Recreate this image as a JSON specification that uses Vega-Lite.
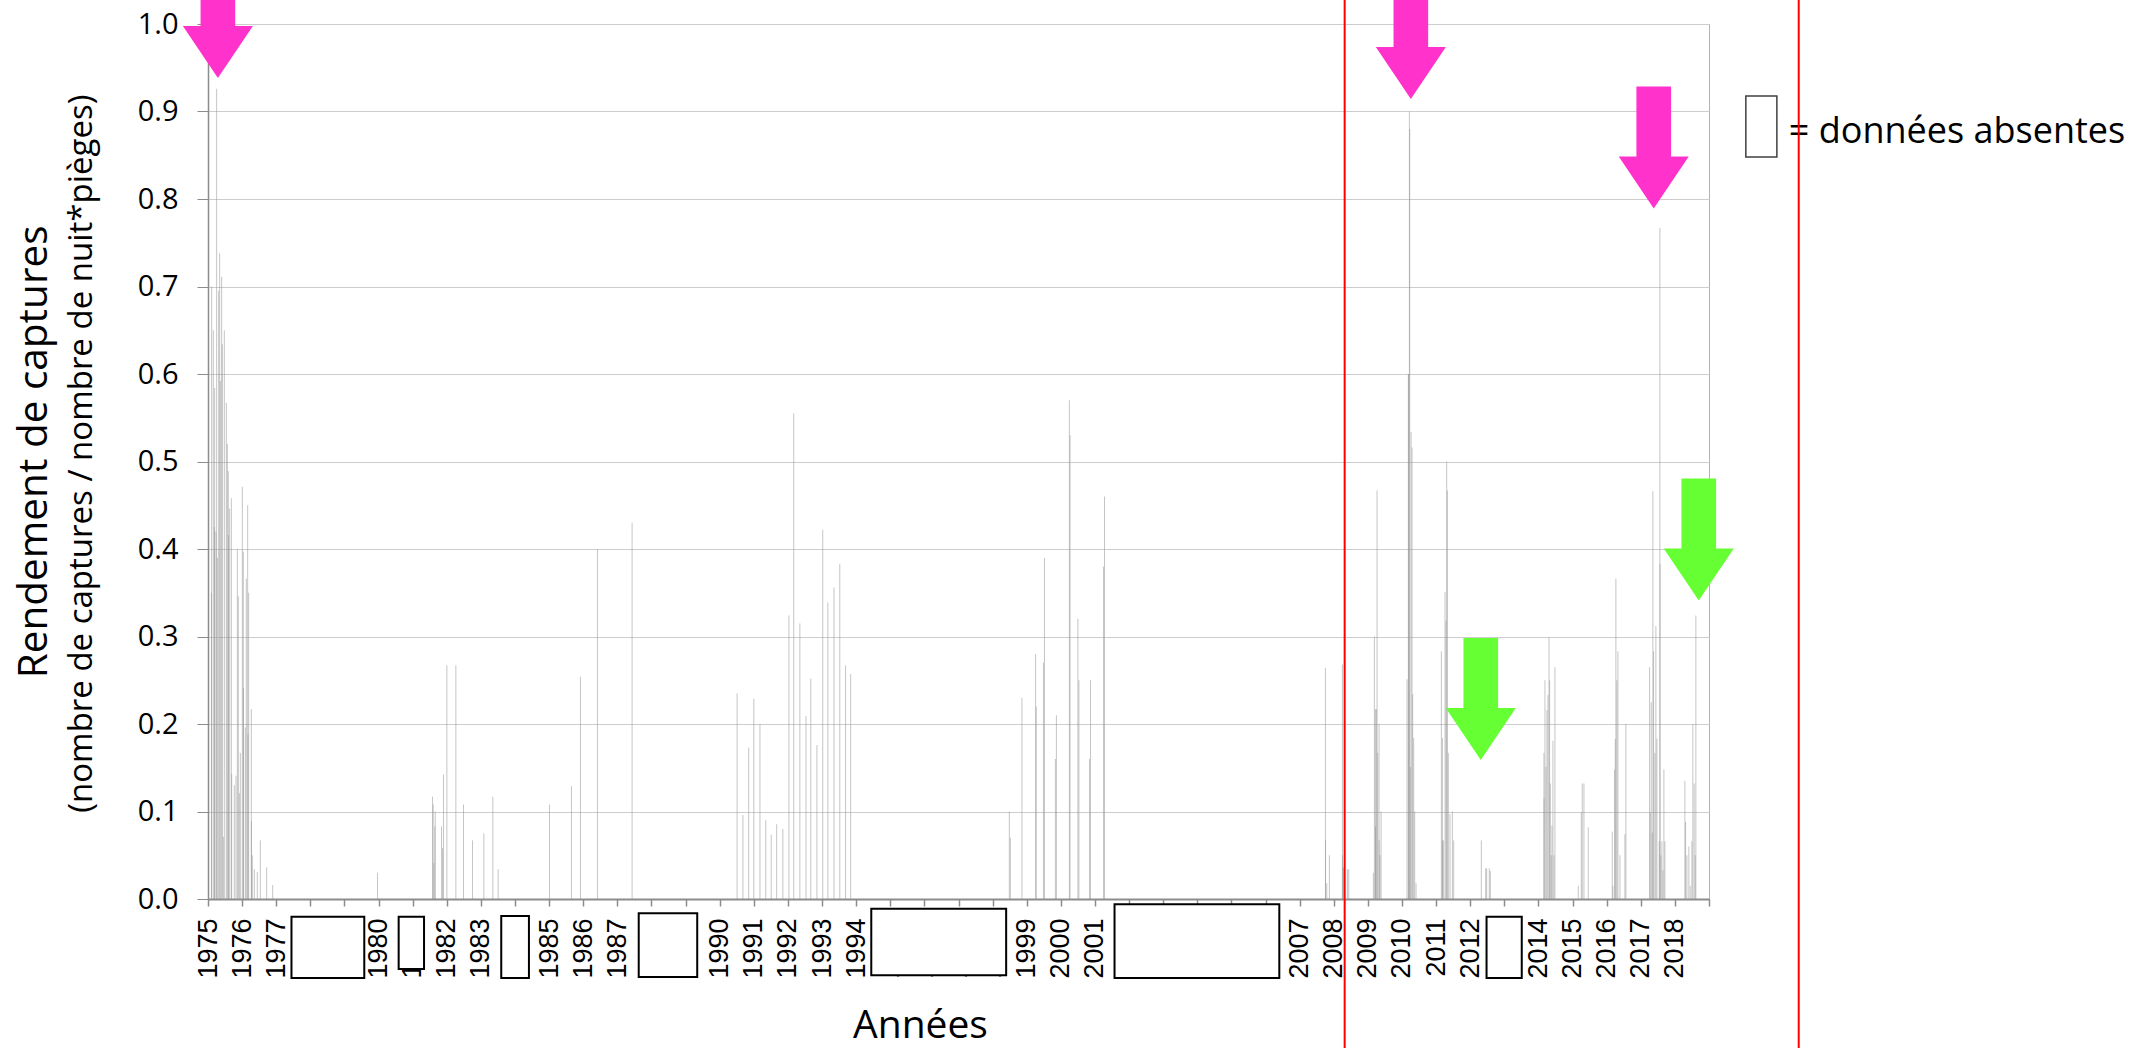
{
  "$schema": "https://vega.github.io/schema/vega-lite/v6.json",
  "width": 1501,
  "height": 875,
  "autosize": "none",
  "padding": {"left": 208, "top": 24, "right": 440, "bottom": 149},
  "background": "white",
  "config": {"view": {"stroke": "#b3b3b3", "strokeWidth": 1}, "font": "Open Sans"},
  "datasets": {
    "captures": [
      {"t": 1975.100, "v": 0.35}, {"t": 1975.107, "v": 0.70}, {"t": 1975.156, "v": 0.65}, {"t": 1975.190, "v": 0.425},
      {"t": 1975.195, "v": 0.584}, {"t": 1975.234, "v": 0.42}, {"t": 1975.254, "v": 0.926}, {"t": 1975.274, "v": 0.39},
      {"t": 1975.313, "v": 0.695}, {"t": 1975.342, "v": 0.738}, {"t": 1975.361, "v": 0.592}, {"t": 1975.400, "v": 0.711},
      {"t": 1975.420, "v": 0.634}, {"t": 1975.449, "v": 0.071}, {"t": 1975.479, "v": 0.65}, {"t": 1975.537, "v": 0.567},
      {"t": 1975.567, "v": 0.52}, {"t": 1975.596, "v": 0.489}, {"t": 1975.600, "v": 0.416}, {"t": 1975.635, "v": 0.446},
      {"t": 1975.684, "v": 0.458}, {"t": 1975.694, "v": 0.143}, {"t": 1975.772, "v": 0.13}, {"t": 1975.821, "v": 0.141},
      {"t": 1975.860, "v": 0.40}, {"t": 1975.889, "v": 0.346}, {"t": 1975.918, "v": 0.121}, {"t": 1975.948, "v": 0.167},
      {"t": 1976.006, "v": 0.471}, {"t": 1976.036, "v": 0.397}, {"t": 1976.040, "v": 0.241}, {"t": 1976.094, "v": 0.196},
      {"t": 1976.123, "v": 0.366}, {"t": 1976.163, "v": 0.45}, {"t": 1976.172, "v": 0.188}, {"t": 1976.192, "v": 0.35},
      {"t": 1976.270, "v": 0.217}, {"t": 1976.274, "v": 0.089}, {"t": 1976.299, "v": 0.05}, {"t": 1976.358, "v": 0.034},
      {"t": 1976.446, "v": 0.031}, {"t": 1976.534, "v": 0.067}, {"t": 1976.720, "v": 0.036}, {"t": 1976.896, "v": 0.016},
      {"t": 1979.970, "v": 0.030}, {"t": 1981.582, "v": 0.117}, {"t": 1981.600, "v": 0.108}, {"t": 1981.620, "v": 0.041},
      {"t": 1981.650, "v": 0.083}, {"t": 1981.660, "v": 0.10}, {"t": 1981.846, "v": 0.083}, {"t": 1981.875, "v": 0.058},
      {"t": 1981.904, "v": 0.142}, {"t": 1982.002, "v": 0.267}, {"t": 1982.266, "v": 0.267}, {"t": 1982.490, "v": 0.108},
      {"t": 1982.754, "v": 0.067}, {"t": 1983.086, "v": 0.075}, {"t": 1983.350, "v": 0.117}, {"t": 1983.506, "v": 0.034},
      {"t": 1985.010, "v": 0.108}, {"t": 1985.654, "v": 0.129}, {"t": 1985.918, "v": 0.254}, {"t": 1986.416, "v": 0.40},
      {"t": 1987.432, "v": 0.430},
      {"t": 1990.51, "v": 0.235}, {"t": 1990.68, "v": 0.096}, {"t": 1990.85, "v": 0.173}, {"t": 1991.00, "v": 0.229},
      {"t": 1991.18, "v": 0.200}, {"t": 1991.35, "v": 0.090}, {"t": 1991.51, "v": 0.0735}, {"t": 1991.67, "v": 0.0855},
      {"t": 1991.85, "v": 0.080}, {"t": 1992.03, "v": 0.324}, {"t": 1992.17, "v": 0.555}, {"t": 1992.35, "v": 0.315},
      {"t": 1992.53, "v": 0.209}, {"t": 1992.67, "v": 0.252}, {"t": 1992.85, "v": 0.176}, {"t": 1993.02, "v": 0.422},
      {"t": 1993.17, "v": 0.339}, {"t": 1993.35, "v": 0.356}, {"t": 1993.52, "v": 0.383}, {"t": 1993.69, "v": 0.267},
      {"t": 1993.84, "v": 0.257},
      {"t": 1998.49, "v": 0.10}, {"t": 1998.52, "v": 0.07}, {"t": 1998.86, "v": 0.23}, {"t": 1999.26, "v": 0.28},
      {"t": 1999.28, "v": 0.22}, {"t": 1999.49, "v": 0.27}, {"t": 1999.52, "v": 0.39}, {"t": 1999.84, "v": 0.16},
      {"t": 1999.87, "v": 0.21}, {"t": 2000.25, "v": 0.57}, {"t": 2000.27, "v": 0.53}, {"t": 2000.50, "v": 0.32},
      {"t": 2000.53, "v": 0.25}, {"t": 2000.84, "v": 0.16}, {"t": 2000.87, "v": 0.25}, {"t": 2001.25, "v": 0.38},
      {"t": 2001.28, "v": 0.46},
      {"t": 2007.756, "v": 0.264}, {"t": 2007.760, "v": 0.067}, {"t": 2007.795, "v": 0.018}, {"t": 2007.873, "v": 0.05},
      {"t": 2008.254, "v": 0.268}, {"t": 2008.258, "v": 0.05}, {"t": 2008.283, "v": 0.036}, {"t": 2008.400, "v": 0.034},
      {"t": 2008.440, "v": 0.034},
      {"t": 2009.162, "v": 0.03}, {"t": 2009.191, "v": 0.30}, {"t": 2009.221, "v": 0.217}, {"t": 2009.224, "v": 0.083},
      {"t": 2009.250, "v": 0.217}, {"t": 2009.270, "v": 0.467}, {"t": 2009.289, "v": 0.167}, {"t": 2009.328, "v": 0.20},
      {"t": 2009.331, "v": 0.067}, {"t": 2009.357, "v": 0.05}, {"t": 2009.387, "v": 0.10},
      {"t": 2010.148, "v": 0.251}, {"t": 2010.188, "v": 0.60}, {"t": 2010.191, "v": 0.60}, {"t": 2010.217, "v": 0.90},
      {"t": 2010.227, "v": 0.88}, {"t": 2010.246, "v": 0.151}, {"t": 2010.266, "v": 0.534}, {"t": 2010.295, "v": 0.516},
      {"t": 2010.314, "v": 0.234}, {"t": 2010.344, "v": 0.184}, {"t": 2010.373, "v": 0.10}, {"t": 2010.412, "v": 0.018},
      {"t": 2011.154, "v": 0.283}, {"t": 2011.184, "v": 0.184}, {"t": 2011.187, "v": 0.067}, {"t": 2011.213, "v": 0.067},
      {"t": 2011.262, "v": 0.351}, {"t": 2011.291, "v": 0.318}, {"t": 2011.311, "v": 0.50}, {"t": 2011.330, "v": 0.467},
      {"t": 2011.359, "v": 0.167}, {"t": 2011.408, "v": 0.097}, {"t": 2011.477, "v": 0.10}, {"t": 2011.516, "v": 0.067},
      {"t": 2012.326, "v": 0.067}, {"t": 2012.453, "v": 0.035}, {"t": 2012.482, "v": 0.035}, {"t": 2012.560, "v": 0.035},
      {"t": 2012.590, "v": 0.032},
      {"t": 2014.162, "v": 0.167}, {"t": 2014.165, "v": 0.115}, {"t": 2014.191, "v": 0.25}, {"t": 2014.221, "v": 0.151},
      {"t": 2014.250, "v": 0.216}, {"t": 2014.279, "v": 0.233}, {"t": 2014.309, "v": 0.299}, {"t": 2014.328, "v": 0.25},
      {"t": 2014.348, "v": 0.132}, {"t": 2014.377, "v": 0.05}, {"t": 2014.396, "v": 0.084}, {"t": 2014.426, "v": 0.181},
      {"t": 2014.455, "v": 0.05}, {"t": 2014.484, "v": 0.265},
      {"t": 2015.168, "v": 0.015}, {"t": 2015.256, "v": 0.099}, {"t": 2015.285, "v": 0.132}, {"t": 2015.334, "v": 0.132},
      {"t": 2015.461, "v": 0.082},
      {"t": 2016.164, "v": 0.077}, {"t": 2016.184, "v": 0.015}, {"t": 2016.232, "v": 0.148}, {"t": 2016.252, "v": 0.183},
      {"t": 2016.271, "v": 0.366}, {"t": 2016.300, "v": 0.25}, {"t": 2016.330, "v": 0.283}, {"t": 2016.389, "v": 0.05},
      {"t": 2016.535, "v": 0.074}, {"t": 2016.564, "v": 0.20},
      {"t": 2017.258, "v": 0.265}, {"t": 2017.277, "v": 0.099}, {"t": 2017.307, "v": 0.225}, {"t": 2017.336, "v": 0.076},
      {"t": 2017.355, "v": 0.466}, {"t": 2017.375, "v": 0.283}, {"t": 2017.414, "v": 0.167}, {"t": 2017.443, "v": 0.312},
      {"t": 2017.473, "v": 0.183}, {"t": 2017.541, "v": 0.066}, {"t": 2017.561, "v": 0.767}, {"t": 2017.564, "v": 0.383},
      {"t": 2017.590, "v": 0.05}, {"t": 2017.619, "v": 0.066}, {"t": 2017.648, "v": 0.033}, {"t": 2017.678, "v": 0.148},
      {"t": 2017.707, "v": 0.066},
      {"t": 2018.293, "v": 0.135}, {"t": 2018.313, "v": 0.088}, {"t": 2018.352, "v": 0.05}, {"t": 2018.410, "v": 0.06},
      {"t": 2018.449, "v": 0.015}, {"t": 2018.498, "v": 0.066}, {"t": 2018.527, "v": 0.20}, {"t": 2018.566, "v": 0.132},
      {"t": 2018.596, "v": 0.05}, {"t": 2018.615, "v": 0.324}
    ],
    "lacunes": [
      {"t": 1977.447, "t2": 1979.581, "v": -0.0202, "v2": -0.0903},
      {"t": 1980.589, "t2": 1981.333, "v": -0.0202, "v2": -0.0800},
      {"t": 1983.596, "t2": 1984.408, "v": -0.0194, "v2": -0.0903},
      {"t": 1987.626, "t2": 1989.341, "v": -0.0163, "v2": -0.0891},
      {"t": 1994.443, "t2": 1998.397, "v": -0.0111, "v2": -0.0872},
      {"t": 2001.574, "t2": 2006.404, "v": -0.0061, "v2": -0.0903},
      {"t": 2012.479, "t2": 2013.511, "v": -0.0202, "v2": -0.0903}
    ],
    "lignes_rouges": [
      {"t": 2008.32, "v": 1.03, "v2": -0.175},
      {"t": 2021.63, "v": 1.03, "v2": -0.175}
    ],
    "fleches": [
      {"t": 1975.29, "v": 1.008, "couleur": "rose"},
      {"t": 2010.26, "v": 0.984, "couleur": "rose"},
      {"t": 2017.38, "v": 0.859, "couleur": "rose"},
      {"t": 2012.31, "v": 0.2286, "couleur": "vert"},
      {"t": 2018.70, "v": 0.411, "couleur": "vert"}
    ]
  },
  "encoding": {
    "x": {
      "field": "t",
      "type": "quantitative",
      "scale": {"domain": [1975, 2019], "nice": false, "zero": false},
      "axis": {
        "values": [1975,1976,1977,1978,1979,1980,1981,1982,1983,1984,1985,1986,1987,1988,1989,1990,1991,1992,1993,1994,1995,1996,1997,1998,1999,2000,2001,2002,2003,2004,2005,2006,2007,2008,2009,2010,2011,2012,2013,2014,2015,2016,2017,2018,2019],
        "format": "d",
        "labelExpr": "datum.value == 2019 ? '' : datum.label",
        "labelAngle": 270,
        "labelFont": "Liberation Sans",
        "labelFontSize": 27,
        "labelColor": "#000000",
        "labelOverlap": false,
        "labelFlush": false,
        "labelBound": false,
        "labelPadding": 12,
        "tickSize": 7,
        "tickColor": "#8c8c8c",
        "tickWidth": 1.5,
        "domainColor": "#8c8c8c",
        "domainWidth": 2,
        "grid": false,
        "zindex": 0,
        "title": "Années",
        "titleFont": "Open Sans",
        "titleFontSize": 39,
        "titleFontWeight": "normal",
        "titleColor": "#000000",
        "titleX": 712,
        "titleY": 138,
        "titleAlign": "center",
        "titleBaseline": "alphabetic"
      }
    },
    "y": {
      "field": "v",
      "type": "quantitative",
      "scale": {"domain": [0, 1], "nice": false, "zero": false},
      "axis": {
        "values": [0, 0.1, 0.2, 0.3, 0.4, 0.5, 0.6, 0.7, 0.8, 0.9, 1.0],
        "format": ".1f",
        "labelFont": "Open Sans",
        "labelFontSize": 29,
        "labelColor": "#000000",
        "labelPadding": 19,
        "labelFlush": false,
        "labelOverlap": false,
        "tickSize": 11,
        "tickColor": "#8c8c8c",
        "domainColor": "#8c8c8c",
        "domainWidth": 1.5,
        "grid": true,
        "gridColor": "#cdcdcd",
        "gridWidth": 1,
        "zindex": 0,
        "title": null
      }
    }
  },
  "layer": [
    {
      "data": {"name": "captures"},
      "mark": {"type": "rule", "color": "#959595", "opacity": 0.55, "strokeWidth": 1},
      "encoding": {"y2": {"datum": 0}}
    },
    {
      "data": {"name": "lacunes"},
      "mark": {"type": "rect", "fill": "#ffffff", "stroke": "#000000", "strokeWidth": 2},
      "encoding": {"x2": {"field": "t2"}, "y2": {"field": "v2"}}
    },
    {
      "data": {"values": [{"t": 2020.08, "t2": 2020.99, "v": 0.9177, "v2": 0.848}]},
      "mark": {"type": "rect", "fill": "#ffffff", "stroke": "#404040", "strokeWidth": 1.5},
      "encoding": {"x2": {"field": "t2"}, "y2": {"field": "v2"}}
    },
    {
      "data": {"values": [{"t": 2021.34, "v": 0.864, "label": "= données absentes"}]},
      "mark": {"type": "text", "align": "left", "baseline": "alphabetic", "font": "Open Sans", "fontSize": 36, "color": "#000000"},
      "encoding": {"text": {"field": "label"}}
    },
    {
      "data": {"values": [{"t": 1970.281, "v": 0.511, "label": "Rendement de captures"}]},
      "mark": {"type": "text", "angle": 270, "align": "center", "baseline": "alphabetic", "font": "Open Sans", "fontSize": 40.5, "color": "#000000"},
      "encoding": {"text": {"field": "label"}}
    },
    {
      "data": {"values": [{"t": 1971.600, "v": 0.509, "label": "(nombre de captures / nombre de nuit*pièges)"}]},
      "mark": {"type": "text", "angle": 270, "align": "center", "baseline": "alphabetic", "font": "Open Sans", "fontSize": 33, "color": "#000000"},
      "encoding": {"text": {"field": "label"}}
    },
    {
      "data": {"name": "lignes_rouges"},
      "mark": {"type": "rule", "color": "#ff0000", "strokeWidth": 2},
      "encoding": {"y2": {"field": "v2"}}
    },
    {
      "data": {"name": "fleches"},
      "mark": {
        "type": "point",
        "shape": "M-0.284,-1L0.284,-1L0.284,0.148L0.574,0.148L0,1L-0.574,0.148L-0.284,0.148Z",
        "size": 14884,
        "filled": true,
        "opacity": 1,
        "strokeWidth": 0
      },
      "encoding": {
        "color": {
          "field": "couleur",
          "type": "nominal",
          "scale": {"domain": ["rose", "vert"], "range": ["#ff33cc", "#66ff33"]},
          "legend": null
        }
      }
    }
  ]
}
